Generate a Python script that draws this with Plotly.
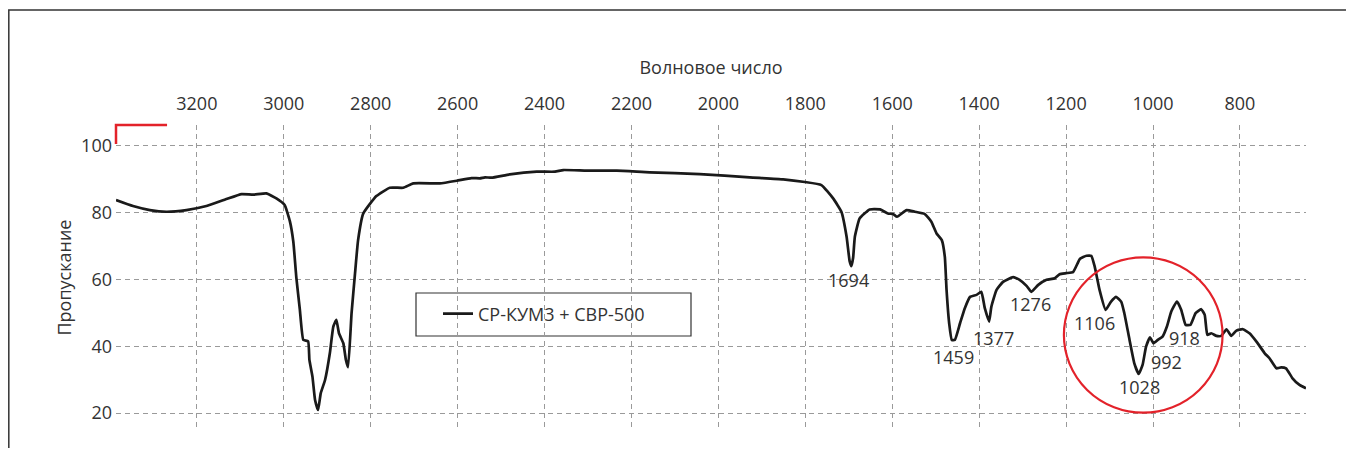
import plotly.graph_objects as go

# Wavenumber (cm-1) and transmittance (%)
wavenumber = [3386, 3347, 3308, 3270, 3224, 3178, 3132, 3097, 3070, 3040, 3017, 2998,
              2986, 2978, 2971, 2963, 2955, 2944, 2941, 2934, 2928, 2921, 2915, 2905,
              2894, 2886, 2879, 2873, 2863, 2857, 2852, 2844, 2836, 2829, 2817, 2787,
              2756, 2725, 2702, 2656, 2641, 2602, 2568, 2549, 2537, 2522, 2480, 2418,
              2376, 2357, 2303, 2234, 2158, 2043, 1928, 1851, 1801, 1763, 1736, 1717,
              1705, 1698, 1694, 1690, 1686, 1675, 1652, 1628, 1610, 1598, 1589, 1567,
              1548, 1525, 1510, 1498, 1486, 1479, 1475, 1469, 1463, 1456, 1444, 1433,
              1421, 1406, 1395, 1387, 1377, 1372, 1360, 1345, 1322, 1307, 1291, 1280,
              1264, 1245, 1226, 1215, 1200, 1184, 1168, 1153, 1142, 1134, 1123, 1109,
              1097, 1085, 1073, 1066, 1054, 1043, 1033, 1024, 1016, 1007, 999, 989,
              978, 968, 958, 945, 935, 925, 914, 902, 889, 881, 875, 866,
              854, 843, 831, 820, 808, 793, 778, 762, 743, 732, 716, 705,
              694, 679, 663, 648]
transmittance = [83.8, 82.0, 80.8, 80.3, 80.8, 82.0, 84.1, 85.6, 85.4, 85.8, 84.3, 82.3,
                 77.5, 71.3, 60.5, 51.0, 41.9, 41.5, 35.9, 30.9, 23.9, 20.9, 25.9, 29.9,
                 37.9, 45.9, 47.9, 43.9, 40.9, 35.9, 33.7, 49.9, 61.9, 71.8, 79.8, 85.0,
                 87.5, 87.5, 88.8, 88.8, 88.8, 89.6, 90.4, 90.3, 90.6, 90.5, 91.5, 92.3,
                 92.3, 92.8, 92.6, 92.6, 92.1, 91.6, 90.6, 90.0, 89.2, 88.3, 84.3, 80.3,
                 72.8, 65.5, 64.0, 66.5, 72.8, 78.3, 81.0, 81.0, 79.8, 79.6, 78.8, 80.8,
                 80.3, 79.6, 77.3, 73.8, 71.8, 66.8, 56.8, 46.9, 41.9, 41.9, 46.9, 51.4,
                 54.8, 55.4, 56.3, 51.4, 47.4, 51.8, 56.9, 59.3, 60.7, 59.9, 58.1, 56.3,
                 58.4, 59.9, 60.4, 61.6, 61.9, 62.2, 66.2, 67.1, 67.1, 63.8, 56.9, 50.9,
                 53.3, 54.8, 53.3, 49.9, 41.9, 34.9, 31.7, 34.4, 39.9, 42.7, 40.9, 41.9,
                 42.9, 45.9, 50.4, 53.4, 50.9, 46.4, 46.4, 49.9, 51.1, 49.4, 43.4, 43.9,
                 43.1, 43.1, 45.1, 43.1, 44.7, 45.1, 43.9, 41.4, 37.9, 36.4, 33.4, 33.7,
                 33.4, 30.4, 28.4, 27.4]

# Peak labels (text) and their label anchor positions in data units
peak_labels = ["1694", "1459", "1377", "1276", "1106", "1028", "992", "918"]
peak_label_x = [1701, 1460, 1368, 1283, 1134, 1032, 969, 927]
peak_label_y = [59.9, 36.7, 42.4, 52.6, 47.1, 27.7, 35.4, 42.4]

x_ticks = [3200, 3000, 2800, 2600, 2400, 2200, 2000, 1800, 1600, 1400, 1200, 1000, 800]
y_ticks = [20, 40, 60, 80, 100]

series_name = "СР-КУМ3 + СВР-500"

FONT = "Open Sans"
TXT = "#333333"
RED = "#e3222a"
FS = 18

# figure size (page has an 8px body margin) and plot area geometry (figure pixels)
W, H = 1338, 440
PL, PT, PW, PH = 108, 117, 1190, 305

fig = go.Figure()
fig.add_trace(go.Scatter(
    x=wavenumber, y=transmittance, mode="lines", name=series_name,
    line=dict(color="#1a1a1a", width=2.7, shape="spline", smoothing=0.4),
))

for t, xv, yv in zip(peak_labels, peak_label_x, peak_label_y):
    fig.add_annotation(x=xv, y=yv, text=t, showarrow=False,
                       font=dict(family=FONT, size=FS, color=TXT),
                       xanchor="center", yanchor="middle")

shapes = []
# outer frame (left and top edges; right/bottom fall outside the picture)
fx = (0.8 - PL) / PW
fy_top = 1 + (PT - 2) / PH
fy_bot = 1 - (H - PT) / PH
fx_right = (W - PL) / PW
shapes.append(dict(type="path", xref="paper", yref="paper",
                   path="M {:.5f},{:.5f} L {:.5f},{:.5f} L {:.5f},{:.5f}".format(
                       fx, fy_bot, fx, fy_top, fx_right, fy_top),
                   line=dict(color="#333333", width=1.5), layer="below"))
# red corner mark
shapes.append(dict(type="path", xref="paper", yref="paper",
                   path="M 0,{:.4f} L 0,1 L {:.4f},1".format(1 - 19 / PH, 51 / PW),
                   line=dict(color=RED, width=2.5)))
# red circle highlighting the fingerprint region
shapes.append(dict(type="circle", xref="x", yref="y",
                   x0=1205, x1=840, y0=20.1, y1=66.65,
                   line=dict(color=RED, width=2.2)))
# legend box
shapes.append(dict(type="rect", xref="paper", yref="paper",
                   x0=300 / PW, x1=575 / PW,
                   y0=1 - 211 / PH, y1=1 - 168 / PH,
                   line=dict(color="#333333", width=1.2), fillcolor="white", layer="below"))

fig.update_layout(
    width=W, height=H,
    margin=dict(l=PL, r=W - PL - PW, t=PT, b=H - PT - PH),
    paper_bgcolor="white", plot_bgcolor="rgba(0,0,0,0)",
    font=dict(family=FONT, size=FS, color=TXT),
    showlegend=True,
    legend=dict(x=322 / PW, y=1 - 189 / PH,
                xanchor="left", yanchor="middle",
                bgcolor="rgba(0,0,0,0)", borderwidth=0,
                font=dict(family=FONT, size=FS, color=TXT)),
    shapes=shapes,
)

fig.update_xaxes(
    range=[3386, 648], side="top", tickvals=x_ticks,
    showgrid=True, gridcolor="#9a9a9a", griddash="5px,4px", gridwidth=1,
    zeroline=False, showline=False, ticks="", ticklabelstandoff=10,
    tickfont=dict(family=FONT, size=FS, color=TXT),
    title=dict(text="Волновое число", font=dict(family=FONT, size=FS, color=TXT), standoff=12),
)
fig.update_yaxes(
    range=[14.91, 106.29], tickvals=y_ticks,
    showgrid=True, gridcolor="#9a9a9a", griddash="5px,4px", gridwidth=1,
    zeroline=False, showline=False, ticks="", ticklabelstandoff=3,
    tickfont=dict(family=FONT, size=FS, color=TXT),
    title=dict(text="Пропускание", font=dict(family=FONT, size=FS, color=TXT), standoff=4),
)

fig.write_html("out.html", config={"displayModeBar": False})
